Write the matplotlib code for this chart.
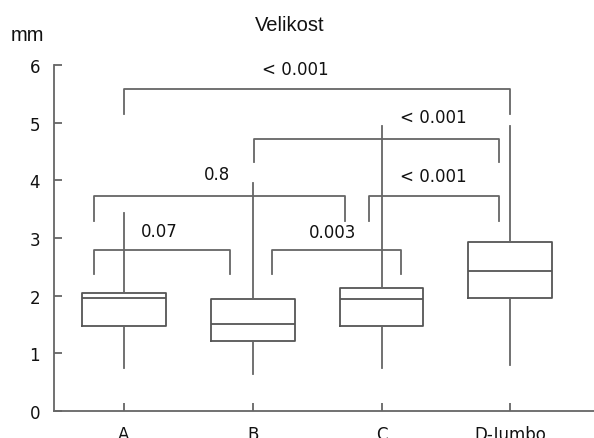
import matplotlib
matplotlib.use('Agg')
import matplotlib.pyplot as plt

# skupiny a souhrnne statistiky (mm)
skupiny = ['A', 'B', 'C', 'D-Jumbo']
q1 = [1.47, 1.21, 1.47, 1.96]
median = [1.96, 1.51, 1.94, 2.43]
q3 = [2.05, 1.94, 2.13, 2.93]
wlo = [0.74, 0.64, 0.74, 0.80]
whi = [3.43, 3.95, 4.94, 4.94]

# p-hodnoty mezi skupinami: leva noha, prava noha, vyska, konec noh
zavorky_x1 = [0.0, 1.01, 1.90, -0.23, -0.23, 1.15]
zavorky_x2 = [3.0, 2.91, 2.91, 1.72, 0.82, 2.15]
zavorky_y = [5.58, 4.71, 3.73, 3.73, 2.79, 2.79]
zavorky_dole = [5.15, 4.31, 3.30, 3.30, 2.37, 2.37]
p_texty = ['< 0.001', '< 0.001', '< 0.001', '0.8', '0.07', '0.003']
p_x = [1.33, 2.40, 2.40, 0.72, 0.27, 1.62]
p_y = [5.93, 5.10, 4.07, 4.11, 3.12, 3.10]

seda = '#666666'
tmava = '#555555'

fig = plt.figure(figsize=(5.94, 4.39), dpi=100)
ax = fig.add_axes([0.0909, 0.0615, 0.9091, 0.7882])

stats = []
for i in range(len(skupiny)):
    stats.append({'q1': q1[i], 'med': median[i], 'q3': q3[i],
                  'whislo': wlo[i], 'whishi': whi[i], 'fliers': []})

ax.bxp(stats, positions=range(len(skupiny)), widths=0.65, showcaps=False,
       boxprops=dict(color=tmava, linewidth=1.3),
       medianprops=dict(color=tmava, linewidth=1.3),
       whiskerprops=dict(color=seda, linewidth=1.3))

for i in range(len(p_texty)):
    ax.plot([zavorky_x1[i], zavorky_x1[i], zavorky_x2[i], zavorky_x2[i]],
            [zavorky_dole[i], zavorky_y[i], zavorky_y[i], zavorky_dole[i]],
            color=seda, linewidth=1.3)
    ax.text(p_x[i], p_y[i], p_texty[i], ha='center', va='center',
            fontsize=12, family='DejaVu Sans', color='#111111')

ax.set_xlim(-0.544, 3.65)
ax.set_ylim(0, 6)
ax.set_yticks([0, 1, 2, 3, 4, 5, 6])
ax.set_xticks(range(len(skupiny)))
ax.set_xticklabels(skupiny)

for s in ['top', 'right']:
    ax.spines[s].set_visible(False)
for s in ['left', 'bottom']:
    ax.spines[s].set_color(seda)
    ax.spines[s].set_linewidth(1.3)

ax.tick_params(direction='in', length=6, width=1.3, color=seda,
               labelsize=12, labelcolor='#111111', pad=10)
ax.tick_params(axis='y', pad=10)
for lab in ax.get_xticklabels() + ax.get_yticklabels():
    lab.set_family('DejaVu Sans')

fig.text(0.488, 0.943, 'Velikost', ha='center', va='center',
         fontsize=14.5, family='Liberation Sans', color='#111111')
fig.text(0.046, 0.920, 'mm', ha='center', va='center',
         fontsize=14.5, family='Liberation Sans', color='#111111')

fig.savefig('out.png', dpi=100, facecolor='white')
